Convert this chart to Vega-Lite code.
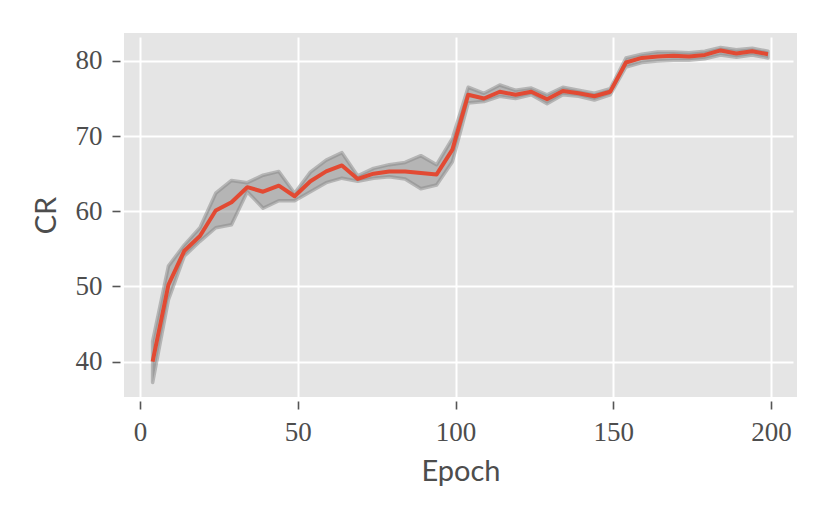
{
  "$schema": "https://vega.github.io/schema/vega-lite/v6.json",
  "width": 673,
  "height": 364,
  "autosize": {"type": "none"},
  "padding": {"left": 124, "top": 33, "right": 33, "bottom": 122},
  "background": "white",
  "config": {
    "view": {"fill": "#E5E5E5", "stroke": null},
    "axis": {
      "domain": false,
      "grid": true,
      "gridColor": "white",
      "gridWidth": 2,
      "tickColor": "#555555",
      "tickWidth": 1.6,
      "tickSize": 8,
      "offset": 4,
      "labelFont": "Liberation Serif",
      "labelFontSize": 27,
      "labelColor": "#4D4D4D",
      "titleFont": "Lato",
      "titleFontSize": 29,
      "titleFontWeight": "normal",
      "titleColor": "#4D4D4D"
    }
  },
  "data": {
    "values": [
      {"epoch": 4, "mean": 40.0, "lo": 37.2, "hi": 42.7},
      {"epoch": 9, "mean": 50.2, "lo": 48.2, "hi": 52.7},
      {"epoch": 14, "mean": 54.7, "lo": 54.0, "hi": 55.5},
      {"epoch": 19, "mean": 56.7, "lo": 56.0, "hi": 57.8},
      {"epoch": 24, "mean": 60.1, "lo": 57.8, "hi": 62.4},
      {"epoch": 29, "mean": 61.2, "lo": 58.2, "hi": 64.1},
      {"epoch": 34, "mean": 63.2, "lo": 62.6, "hi": 63.8},
      {"epoch": 39, "mean": 62.6, "lo": 60.4, "hi": 64.8},
      {"epoch": 44, "mean": 63.4, "lo": 61.4, "hi": 65.3},
      {"epoch": 49, "mean": 62.0, "lo": 61.4, "hi": 62.4},
      {"epoch": 54, "mean": 64.0, "lo": 62.6, "hi": 65.2},
      {"epoch": 59, "mean": 65.3, "lo": 63.8, "hi": 66.8},
      {"epoch": 64, "mean": 66.1, "lo": 64.4, "hi": 67.8},
      {"epoch": 69, "mean": 64.3, "lo": 64.0, "hi": 64.7},
      {"epoch": 74, "mean": 65.0, "lo": 64.4, "hi": 65.7},
      {"epoch": 79, "mean": 65.3, "lo": 64.6, "hi": 66.2},
      {"epoch": 84, "mean": 65.3, "lo": 64.3, "hi": 66.5},
      {"epoch": 89, "mean": 65.1, "lo": 63.0, "hi": 67.4},
      {"epoch": 94, "mean": 64.9, "lo": 63.5, "hi": 66.2},
      {"epoch": 99, "mean": 68.2, "lo": 66.6, "hi": 69.7},
      {"epoch": 104, "mean": 75.5, "lo": 74.4, "hi": 76.5},
      {"epoch": 109, "mean": 75.0, "lo": 74.6, "hi": 75.7},
      {"epoch": 114, "mean": 75.9, "lo": 75.3, "hi": 76.8},
      {"epoch": 119, "mean": 75.5, "lo": 75.0, "hi": 76.1},
      {"epoch": 124, "mean": 75.9, "lo": 75.5, "hi": 76.4},
      {"epoch": 129, "mean": 74.9, "lo": 74.3, "hi": 75.5},
      {"epoch": 134, "mean": 76.0, "lo": 75.5, "hi": 76.5},
      {"epoch": 139, "mean": 75.7, "lo": 75.3, "hi": 76.1},
      {"epoch": 144, "mean": 75.3, "lo": 74.8, "hi": 75.7},
      {"epoch": 149, "mean": 75.9, "lo": 75.5, "hi": 76.3},
      {"epoch": 154, "mean": 79.8, "lo": 79.2, "hi": 80.4},
      {"epoch": 159, "mean": 80.4, "lo": 79.8, "hi": 80.9},
      {"epoch": 164, "mean": 80.6, "lo": 80.0, "hi": 81.2},
      {"epoch": 169, "mean": 80.7, "lo": 80.1, "hi": 81.2},
      {"epoch": 174, "mean": 80.6, "lo": 80.1, "hi": 81.1},
      {"epoch": 179, "mean": 80.8, "lo": 80.3, "hi": 81.3},
      {"epoch": 184, "mean": 81.4, "lo": 80.8, "hi": 81.8},
      {"epoch": 189, "mean": 81.0, "lo": 80.5, "hi": 81.5},
      {"epoch": 194, "mean": 81.3, "lo": 80.8, "hi": 81.7},
      {"epoch": 199, "mean": 80.9, "lo": 80.4, "hi": 81.3}
    ]
  },
  "encoding": {
    "x": {
      "field": "epoch",
      "type": "quantitative",
      "scale": {"domain": [-5.07, 208.2], "nice": false, "zero": false},
      "axis": {"values": [0, 50, 100, 150, 200], "title": "Epoch", "labelPadding": 10, "titlePadding": 12}
    }
  },
  "layer": [
    {
      "mark": {"type": "area", "fill": "#858585", "fillOpacity": 0.5, "stroke": "#858585", "strokeOpacity": 0.5, "strokeWidth": 3.5, "strokeJoin": "round"},
      "encoding": {
        "y": {
          "field": "lo",
          "type": "quantitative",
          "scale": {"domain": [35.28, 83.72], "nice": false, "zero": false},
          "axis": {"values": [40, 50, 60, 70, 80], "title": "CR", "labelPadding": 10, "titlePadding": 14}
        },
        "y2": {"field": "hi"}
      }
    },
    {
      "mark": {"type": "line", "stroke": "#E24A33", "strokeWidth": 4, "strokeJoin": "round"},
      "encoding": {
        "y": {"field": "mean", "type": "quantitative"}
      }
    }
  ]
}
